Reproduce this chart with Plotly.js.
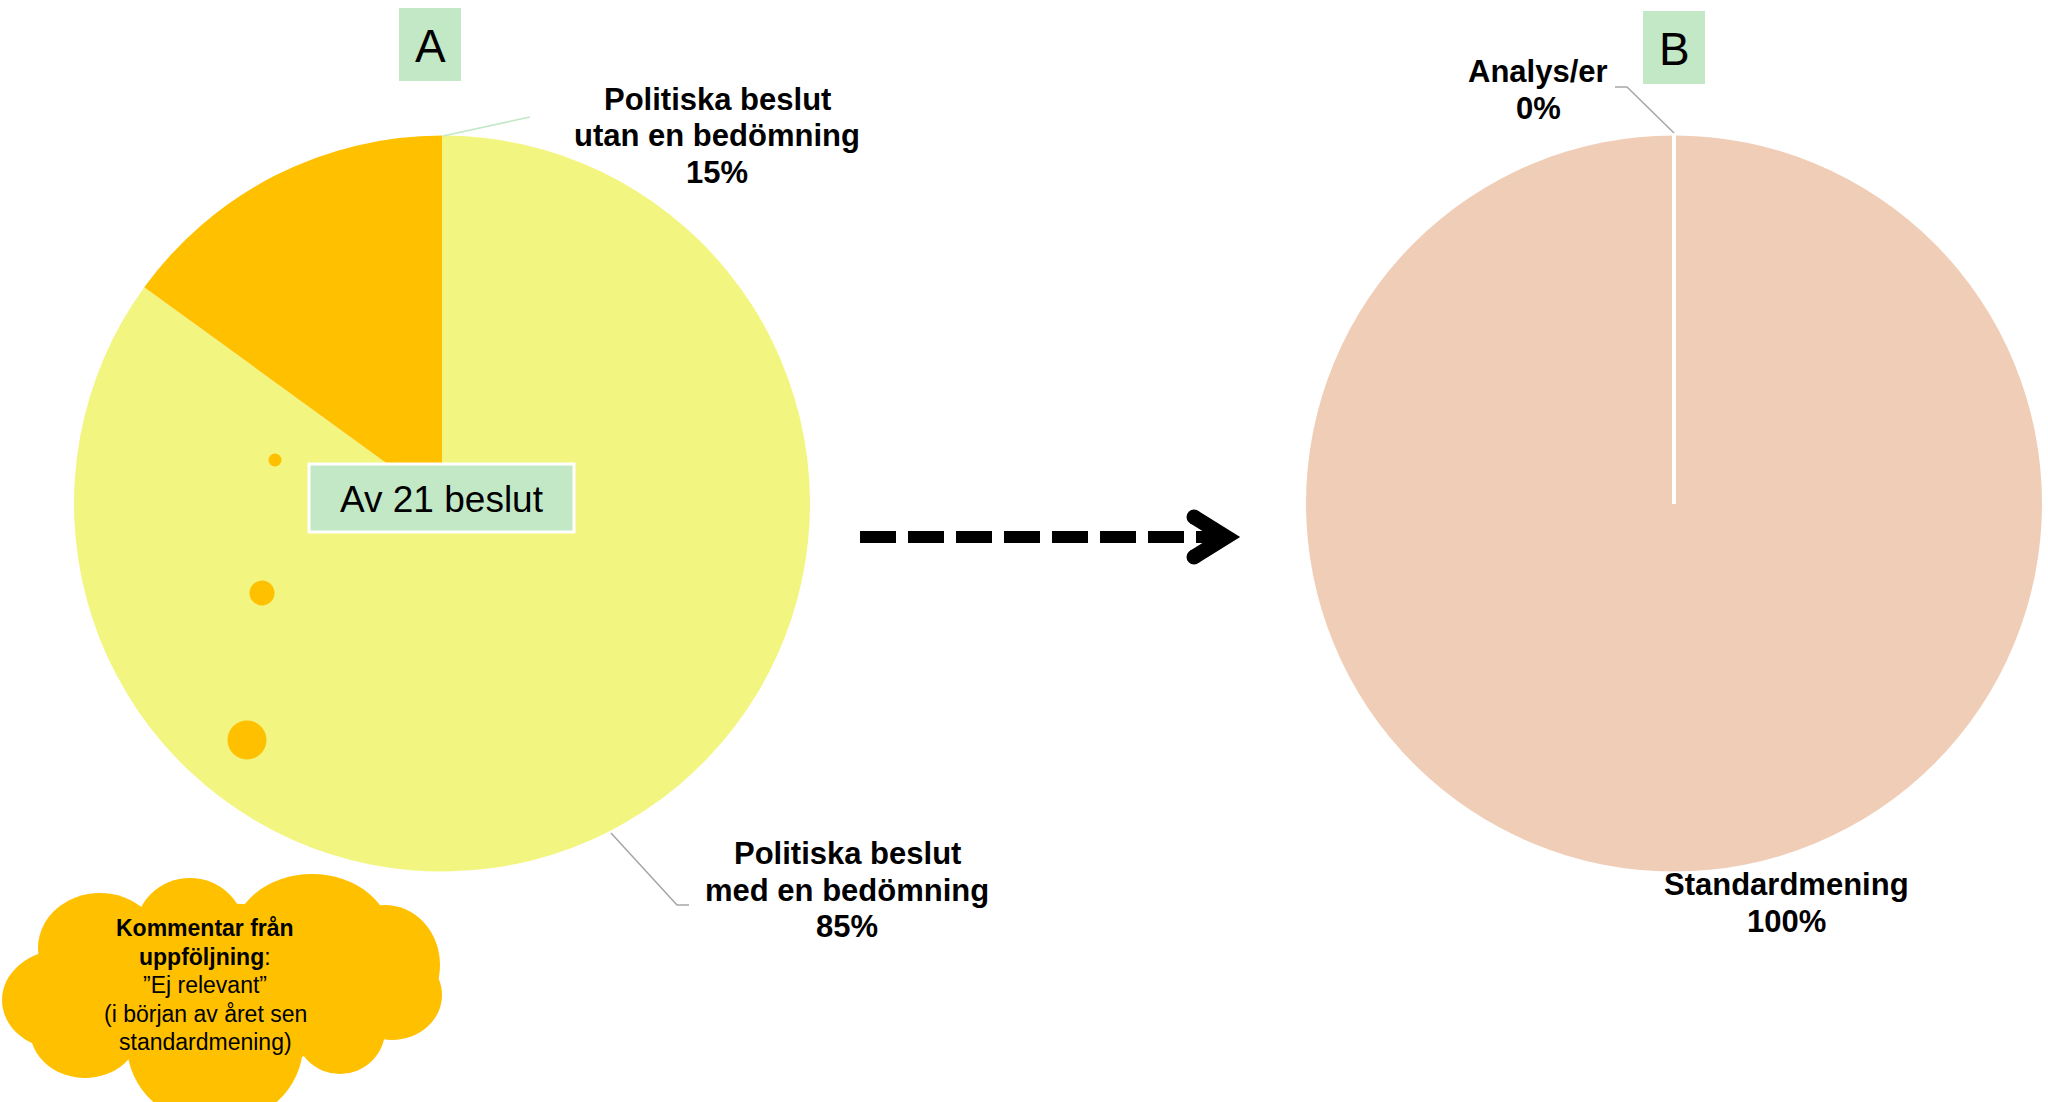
<!DOCTYPE html>
<html>
<head>
<meta charset="utf-8">
<script src="https://cdn.plot.ly/plotly-3.0.1.min.js"></script>
<style>
  html, body { margin: 0; padding: 0; background: #ffffff; }
  #chart { width: 2048px; height: 1102px; }
</style>
</head>
<body>
<div id="chart"></div>
<script>
// Chart A: political decisions (of 21)
const labelsA = ["Politiska beslut med en bedömning", "Politiska beslut utan en bedömning"];
const valuesA = [85, 15];
const colorsA = ["#F3F581", "#FFC000"];

// Chart B: what the follow-up found
const labelsB = ["Analys/er", "Standardmening"];
const valuesB = [0, 100];
const colorsB = ["#FFFFFF", "#F0CDB6"];

const W = 2048, H = 1102;
const FONT = "Liberation Sans, Arial, sans-serif";

// pixel -> paper helpers
const px = (x) => x / W;
const py = (y) => 1 - y / H;

function pct(values, i) {
    const total = values.reduce((a, b) => a + b, 0);
    return Math.round(values[i] / total * 100) + "%";
}

function wrapLabel(label) {
    return label.replace(" beslut ", " beslut<br>");
}

const pieA = {
    type: "pie",
    labels: labelsA,
    values: valuesA,
    sort: false,
    direction: "clockwise",
    rotation: 0,
    marker: { colors: colorsA, line: { width: 0 } },
    textinfo: "none",
    hoverinfo: "skip",
    showlegend: false,
    domain: { x: [px(74), px(810)], y: [py(871.5), py(135.5)] }
};

const pieB = {
    type: "pie",
    labels: labelsB,
    values: valuesB,
    sort: false,
    direction: "clockwise",
    rotation: 0,
    marker: { colors: colorsB, line: { width: 0 } },
    textinfo: "none",
    hoverinfo: "skip",
    showlegend: false,
    domain: { x: [px(1306), px(2042)], y: [py(871.5), py(135.5)] }
};

const annotations = [];

// multi-line text block, one annotation per line so the line step can be set
function textBlock(lines, cx, cy, size, step) {
    lines.forEach((line, k) => {
        annotations.push({
            xref: "paper", yref: "paper",
            x: px(cx), y: py(cy + (k - (lines.length - 1) / 2) * step),
            xanchor: "center", yanchor: "middle",
            showarrow: false, align: "center",
            text: line,
            font: { family: FONT, size: size, color: "#000000" }
        });
    });
}

// label positions (pixels) for each slice
const labelPosA = [{ x: 847, y: 890 }, { x: 717, y: 136 }];
const labelPosB = [{ x: 1538, y: 90 }, { x: 1786, y: 903 }];

labelsA.forEach((lab, i) => {
    const lines = wrapLabel(lab).split("<br>").concat([pct(valuesA, i)]);
    textBlock(lines.map((l) => "<b>" + l + "</b>"), labelPosA[i].x, labelPosA[i].y, 31, 36.5);
});
labelsB.forEach((lab, i) => {
    const lines = [lab, pct(valuesB, i)];
    textBlock(lines.map((l) => "<b>" + l + "</b>"), labelPosB[i].x, labelPosB[i].y, 31, 36.5);
});

// panel letters and the "Av 21 beslut" box text
textBlock(["A"], 430, 46, 46, 0);
textBlock(["B"], 1674, 49, 46, 0);
textBlock(["Av 21 beslut"], 441.5, 499, 37, 0);

// cloud comment
textBlock([
    "<b>Kommentar från</b>",
    "<b>uppföljning</b>:",
    "”Ej relevant”",
    "(i början av året sen",
    "standardmening)"
], 205, 985, 23, 28.5);

const shapes = [];
function rect(x0, y0, x1, y1, fill, lineColor, lineWidth) {
    shapes.push({
        type: "rect", xref: "paper", yref: "paper",
        x0: px(x0), x1: px(x1), y0: py(y1), y1: py(y0),
        fillcolor: fill, line: { color: lineColor || fill, width: lineWidth || 0 }
    });
}
function ellipse(cx, cy, rx, ry, fill) {
    shapes.push({
        type: "circle", xref: "paper", yref: "paper",
        x0: px(cx - rx), x1: px(cx + rx), y0: py(cy + ry), y1: py(cy - ry),
        fillcolor: fill, line: { width: 0 }
    });
}
function path(points, color, width, dash) {
    const d = points.map((p, i) => (i === 0 ? "M" : "L") + px(p[0]) + "," + py(p[1])).join(" ");
    shapes.push({
        type: "path", xref: "paper", yref: "paper", path: d,
        line: { color: color, width: width, dash: dash || "solid" }
    });
}

// label boxes
rect(399, 8, 461, 81, "#C2E8C6");
rect(1643, 11, 1705, 84, "#C2E8C6");
rect(309, 464, 574, 532, "#C2E8C6", "#FFFFFF", 3);

// leader lines
path([[443, 136], [530, 117]], "#C2E8C6", 1.5);
path([[611, 833], [677, 905], [689, 905]], "#A6A6A6", 1.5);
path([[1674, 133], [1627, 87], [1615, 87]], "#A6A6A6", 1.5);

// white separator for the empty Analys/er slice
path([[1674, 135], [1674, 504]], "#FFFFFF", 4);

// thought bubble dots
ellipse(275, 460, 6.5, 6.5, "#FFC000");
ellipse(262, 593, 12.5, 12.5, "#FFC000");
ellipse(247, 740, 19.5, 19.5, "#FFC000");

// cloud
const cloud = "#FFC000";
ellipse(215, 985, 180, 82, cloud);
ellipse(62, 1000, 60, 50, cloud);
ellipse(100, 948, 62, 55, cloud);
ellipse(190, 932, 55, 54, cloud);
ellipse(312, 940, 80, 66, cloud);
ellipse(385, 965, 55, 60, cloud);
ellipse(392, 995, 50, 45, cloud);
ellipse(340, 1030, 45, 44, cloud);
ellipse(215, 1045, 88, 80, cloud);
ellipse(85, 1030, 55, 48, cloud);

// dashed arrow
shapes.push({
    type: "line", xref: "paper", yref: "paper",
    x0: px(860), x1: px(1226), y0: py(537), y1: py(537),
    line: { color: "#000000", width: 12, dash: "36px,12px" }
});
path([[1194, 517], [1226, 537], [1194, 557]], "#000000", 15);
ellipse(1194, 517, 7.5, 7.5, "#000000");
ellipse(1194, 557, 7.5, 7.5, "#000000");

const layout = {
    width: W,
    height: H,
    margin: { l: 0, r: 0, t: 0, b: 0 },
    paper_bgcolor: "#FFFFFF",
    plot_bgcolor: "#FFFFFF",
    showlegend: false,
    shapes: shapes,
    annotations: annotations
};

Plotly.newPlot("chart", [pieA, pieB], layout, { displayModeBar: false, staticPlot: true });
</script>
</body>
</html>
